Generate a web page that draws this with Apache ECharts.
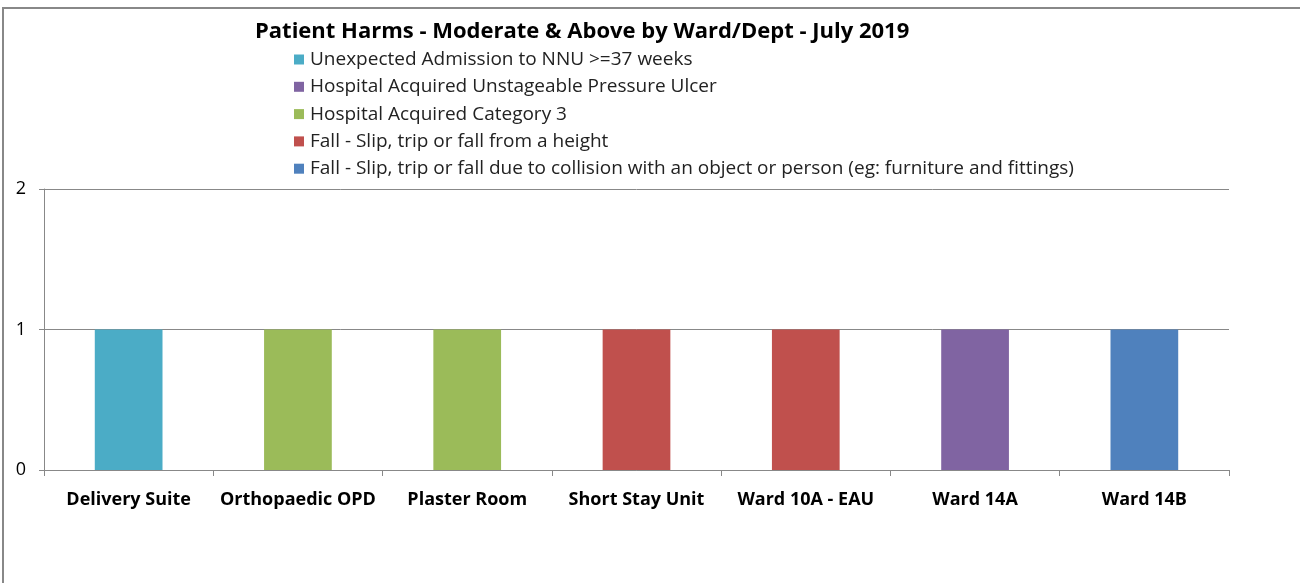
<!DOCTYPE html>
<html>
<head>
<meta charset="utf-8">
<script src="https://cdn.jsdelivr.net/npm/echarts@6/dist/echarts.min.js"></script>
<style>
html, body { margin: 0; padding: 0; background: #fff; }
#chart { width: 1300px; height: 583px; }
</style>
</head>
<body>
<div id="chart"></div>
<script>
// data
const wards = ['Delivery Suite', 'Orthopaedic OPD', 'Plaster Room', 'Short Stay Unit', 'Ward 10A - EAU', 'Ward 14A', 'Ward 14B']
const harmTypes = [
  'Unexpected Admission to NNU >=37 weeks',
  'Hospital Acquired Unstageable Pressure Ulcer',
  'Hospital Acquired Category 3',
  'Fall - Slip, trip or fall from a height',
  'Fall - Slip, trip or fall due to collision with an object or person (eg: furniture and fittings)'
]
const nnuCounts = [1, 0, 0, 0, 0, 0, 0]
const ulcerCounts = [0, 0, 0, 0, 0, 1, 0]
const cat3Counts = [0, 1, 1, 0, 0, 0, 0]
const fallHeightCounts = [0, 0, 0, 1, 1, 0, 0]
const fallCollisionCounts = [0, 0, 0, 0, 0, 0, 1]
const yTicks = [0, 1, 2]

const seriesData = [nnuCounts, ulcerCounts, cat3Counts, fallHeightCounts, fallCollisionCounts]
const colors = ['#4BACC6', '#8064A2', '#9BBB59', '#C0504D', '#4F81BD']
const font = '"Open Sans", "Liberation Sans", sans-serif'

const mChart = echarts.init(document.getElementById('chart'))
const option = {
  animation: false,
  textStyle: { fontFamily: font },
  title: {
    text: 'Patient Harms - Moderate & Above by Ward/Dept - July 2019',
    left: 250,
    top: 16,
    textStyle: { fontSize: 22, fontWeight: 'bold', color: '#000', fontFamily: font }
  },
  legend: {
    orient: 'vertical',
    left: 289,
    top: 45,
    itemWidth: 10,
    itemHeight: 10,
    itemGap: 8.3,
    icon: 'rect',
    data: harmTypes,
    textStyle: { fontSize: 19, lineHeight: 19, color: '#222', padding: [0, 0, 0, 1] }
  },
  graphic: [
    {
      type: 'polyline',
      shape: { points: [[3, 583], [3, 8], [1300, 8]] },
      style: { stroke: '#888', lineWidth: 2, fill: null }
    }
  ],
  grid: { left: 44, right: 71, top: 189, bottom: 113 },
  xAxis: {
    type: 'category',
    data: wards,
    axisLine: { lineStyle: { color: '#888' } },
    axisTick: { show: true, length: 6, lineStyle: { color: '#888' } },
    axisLabel: { interval: 0, fontSize: 18, fontWeight: 'bold', color: '#000', margin: 21 }
  },
  yAxis: {
    type: 'value',
    min: yTicks[0],
    max: yTicks[yTicks.length - 1],
    interval: 1,
    axisLine: { show: true, lineStyle: { color: '#888' } },
    axisTick: { show: true, length: 5, lineStyle: { color: '#888' } },
    splitLine: { lineStyle: { color: '#888' } },
    axisLabel: { fontSize: 18, color: '#000', margin: 18 }
  },
  series: harmTypes.map((name, i) => ({
    name,
    type: 'bar',
    stack: 'harms',
    barWidth: '40%',
    itemStyle: { color: colors[i] },
    data: seriesData[i].map(v => (v === 0 ? null : v))
  }))
}
mChart.setOption(option)
</script>
</body>
</html>
